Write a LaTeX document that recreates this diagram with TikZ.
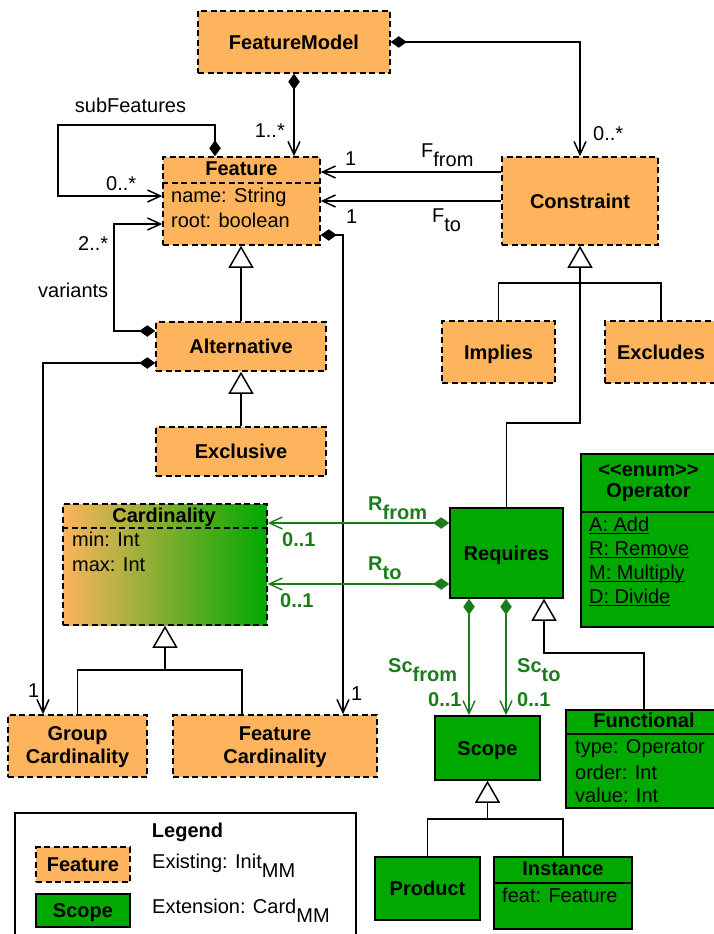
\documentclass[tikz,border=0pt]{standalone}
\usepackage{fontspec}
\setmainfont{Liberation Sans}
\usetikzlibrary{arrows.meta}
\definecolor{ofill}{RGB}{253,180,92}
\definecolor{gfill}{RGB}{0,168,0}
\definecolor{dgreen}{RGB}{28,124,28}
\newcommand\lsub[1]{\raisebox{-9pt}{#1}}
\newcommand\ulx[1]{\setbox0\hbox{#1}\rlap{\rule[-2.8pt]{\wd0}{1.3pt}}\box0}
\begin{document}
\begin{tikzpicture}[x=1pt,y=-1pt,
  lab/.style={font=\fontsize{20}{23}\selectfont, inner sep=0pt},
  blab/.style={font=\fontsize{20}{23}\selectfont\bfseries, inner sep=0pt},
  glab/.style={font=\fontsize{20}{23}\selectfont\bfseries, text=dgreen, inner sep=0pt},
  obox/.style={draw=black, line width=1.5pt, dash pattern=on 6pt off 3.5pt, fill=ofill, inner sep=0pt,
    font=\fontsize{20}{23}\selectfont\bfseries, text height=14.3pt, text depth=0pt},
  cbox/.style={draw=black, line width=1.5pt, dash pattern=on 6pt off 3.5pt, left color=ofill, right color=gfill, inner sep=0pt},
  gbox/.style={draw=black, line width=1.5pt, fill=gfill, inner sep=0pt,
    font=\fontsize{20}{23}\selectfont\bfseries, text height=14.3pt, text depth=0pt},
  ln/.style={line width=1.5pt, draw=black},
  dsep/.style={line width=1.5pt, draw=black, dash pattern=on 6pt off 3.5pt},
  comp/.style={ln, arrows={Diamond[length=16pt,width=11.5pt]-Straight Barb[length=13pt,width=12pt]}},
  assoc/.style={ln, arrows={-Straight Barb[length=13pt,width=12pt]}},
  gen/.style={ln, arrows={-Triangle[open,length=22pt,width=25pt,fill=white]}},
  gcomp/.style={line width=1.4pt, draw=dgreen, arrows={Diamond[length=16pt,width=11.5pt]-Straight Barb[length=13pt,width=12pt]}},
]
\path[use as bounding box, fill=white] (0,0) rectangle (714,934);

% ---------- boxes ----------
\node[obox, minimum width=192, minimum height=62] (fm) at (294,42) {FeatureModel};
\node[obox, minimum width=157, minimum height=88] (feat) at (241.5,201) {};
\node[obox, minimum width=156, minimum height=88] (con) at (580,201) {Constraint};
\node[obox, minimum width=170, minimum height=49] (alt) at (241,346.5) {Alternative};
\node[obox, minimum width=170, minimum height=49] (excl) at (241,451.5) {Exclusive};
\node[obox, minimum width=113, minimum height=62] (imp) at (498.5,352) {Implies};
\node[obox, minimum width=112, minimum height=62] (exc) at (661,352) {Excludes};
\node[cbox, minimum width=204, minimum height=121] (card) at (165,564.5) {};
\node[obox, minimum width=139, minimum height=62] (gcard) at (77.5,746) {};
\node[obox, minimum width=204, minimum height=62] (fcard) at (275,746) {};
\node[gbox, minimum width=113, minimum height=90] (req) at (506.5,553) {Requires};
\node[gbox, minimum width=135, minimum height=173] (op) at (648.5,540.5) {};
\node[gbox, minimum width=156, minimum height=98] (fun) at (644,759) {};
\node[gbox, minimum width=105, minimum height=64] (scope) at (487.5,748) {Scope};
\node[gbox, minimum width=105, minimum height=63] (prod) at (427.5,888.5) {Product};
\node[gbox, minimum width=138, minimum height=72] (inst) at (563,893) {};
\node[draw=black, line width=1.5pt, minimum width=341, minimum height=140, inner sep=0pt] (leg) at (185.5,883) {};
\node[obox, minimum width=94, minimum height=35] (legf) at (83,864.5) {Feature};
\node[gbox, minimum width=94, minimum height=33] (legs) at (83,910.5) {Scope};

% ---------- compartments and texts ----------
\draw[dsep] (feat.west |- 0,183) -- (feat.east |- 0,183);
\node[blab, anchor=base] (featT) at (241.5,175.5) {Feature};
\node[lab, anchor=base west] (featA1) at (171,202) {name: String};
\node[lab, anchor=base west] (featA2) at (171,227) {root: boolean};

\draw[dsep] (card.west |- 0,528) -- (card.east |- 0,528);
\node[blab, anchor=base] (cardT) at (164,522.5) {Cardinality};
\node[lab, anchor=base west] (cardA1) at (72,546.5) {min: Int};
\node[lab, anchor=base west] (cardA2) at (72,571.5) {max: Int};

\node[blab, align=center] (gcardT) at (77.5,747.5) {Group\\Cardinality};
\node[blab, align=center] (fcardT) at (275,747.5) {Feature\\Cardinality};

\draw[ln] (op.west |- 0,512) -- (op.east |- 0,512);
\node[blab, anchor=base] (opT1) at (648.5,476) {<{}<enum>{}>};
\node[blab, anchor=base] (opT2) at (648.5,497) {Operator};
\node[lab, anchor=base west] (opA1) at (589,531) {\ulx{A: Add}};
\node[lab, anchor=base west] (opA2) at (589,555) {\ulx{R: Remove}};
\node[lab, anchor=base west] (opA3) at (589,579) {\ulx{M: Multiply}};
\node[lab, anchor=base west] (opA4) at (589,603) {\ulx{D: Divide}};

\draw[ln] (fun.west |- 0,734) -- (fun.east |- 0,734);
\node[blab, anchor=base] (funT) at (644,727) {Functional};
\node[lab, anchor=base west] (funA1) at (575,753) {type: Operator};
\node[lab, anchor=base west] (funA2) at (575,779) {order: Int};
\node[lab, anchor=base west] (funA3) at (575,802) {value: Int};

\draw[ln] (inst.west |- 0,883) -- (inst.east |- 0,883);
\node[blab, anchor=base] (instT) at (563,875) {Instance};
\node[lab, anchor=base west] (instA1) at (502,902) {feat: Feature};

\node[blab, anchor=base] (legT) at (187.5,837) {Legend};
\node[lab, anchor=base west] (legE1) at (152,868) {Existing: Init\lsub{MM}};
\node[lab, anchor=base west] (legE2) at (152,913.5) {Extension: Card\lsub{MM}};

% ---------- connectors ----------
\draw[comp] (fm.south) -- (fm.south |- feat.north);
\draw[comp] (fm.east) -| (con.north);
\draw[comp] (feat.north -| 215,0) -- (215,125) -- (58,125) -- (58,196) -- (feat.west |- 0,196);
\draw[comp] (alt.west |- 0,331) -- (114,331) -- (114,224) -- (feat.west |- 0,224);
\draw[comp] (alt.west |- 0,363) -- (43,363) -- (gcard.north -| 43,0);
\draw[comp] (feat.east |- 0,235) -- (343,235) -- (fcard.north -| 343,0);
\draw[assoc] (con.west |- 0,172) -- (feat.east |- 0,172);
\draw[assoc] (con.west) -- (feat.east);

\draw[gen] (alt.north) -- (alt.north |- feat.south);
\draw[gen] (excl.north) -- (alt.south);
\coordinate (cj) at (con.south |- 0,283);
\draw[gen] (req.north) |- (con.south |- 0,423) -- (con.south);
\draw[ln] (imp.north) |- (cj) -| (exc.north);
\coordinate (cc) at (card.south |- 0,670);
\draw[gen] (gcard.north) |- (cc) -- (card.south);
\draw[ln] (cc) -| (fcard.north -| 242,0);
\draw[gen] (fun.north) |- (544,653) -- (req.south -| 544,0);
\coordinate (sj) at (scope.south |- 0,819);
\draw[gen] (prod.north) |- (sj) -- (scope.south);
\draw[ln] (sj) -| (inst.north);

\draw[gcomp] (req.west |- 0,523) -- (card.east |- 0,523);
\draw[gcomp] (req.west |- 0,584) -- (card.east |- 0,584);
\draw[gcomp] (req.south -| 469,0) -- (scope.north -| 469,0);
\draw[gcomp] (req.south -| 506,0) -- (scope.north -| 506,0);

% ---------- connector labels ----------
\node[lab, anchor=base east] (m1) at (285,137) {1..*};
\node[lab, anchor=base west] (m2) at (593,140) {0..*};
\node[lab, anchor=base] (sub) at (130.5,112) {subFeatures};
\node[lab, anchor=base west] (m3) at (106,190) {0..*};
\node[lab, anchor=base west] (m4) at (78,250) {2..*};
\node[lab, anchor=base west] (var) at (38,297) {variants};
\node[lab, anchor=base west] (m5) at (28,697) {1};
\node[lab, anchor=base west] (m6) at (351,700) {1};
\node[lab, anchor=base west] (m7) at (345,165) {1};
\node[lab, anchor=base west] (ffrom) at (421,157.5) {F\lsub{from}};
\node[lab, anchor=base west] (m8) at (346,223) {1};
\node[lab, anchor=base west] (fto) at (432,222) {F\lsub{to}};
\node[glab, anchor=base west] (rfrom) at (368,510) {R\lsub{from}};
\node[glab, anchor=base west] (g1) at (282,546) {0..1};
\node[glab, anchor=base west] (rto) at (368,570) {R\lsub{to}};
\node[glab, anchor=base west] (g2) at (280,607) {0..1};
\node[glab, anchor=base west] (scfrom) at (388,672) {Sc\lsub{from}};
\node[glab, anchor=base west] (g3) at (428,706) {0..1};
\node[glab, anchor=base west] (scto) at (517,672) {Sc\lsub{to}};
\node[glab, anchor=base west] (g4) at (517,706) {0..1};
\end{tikzpicture}
\end{document}
